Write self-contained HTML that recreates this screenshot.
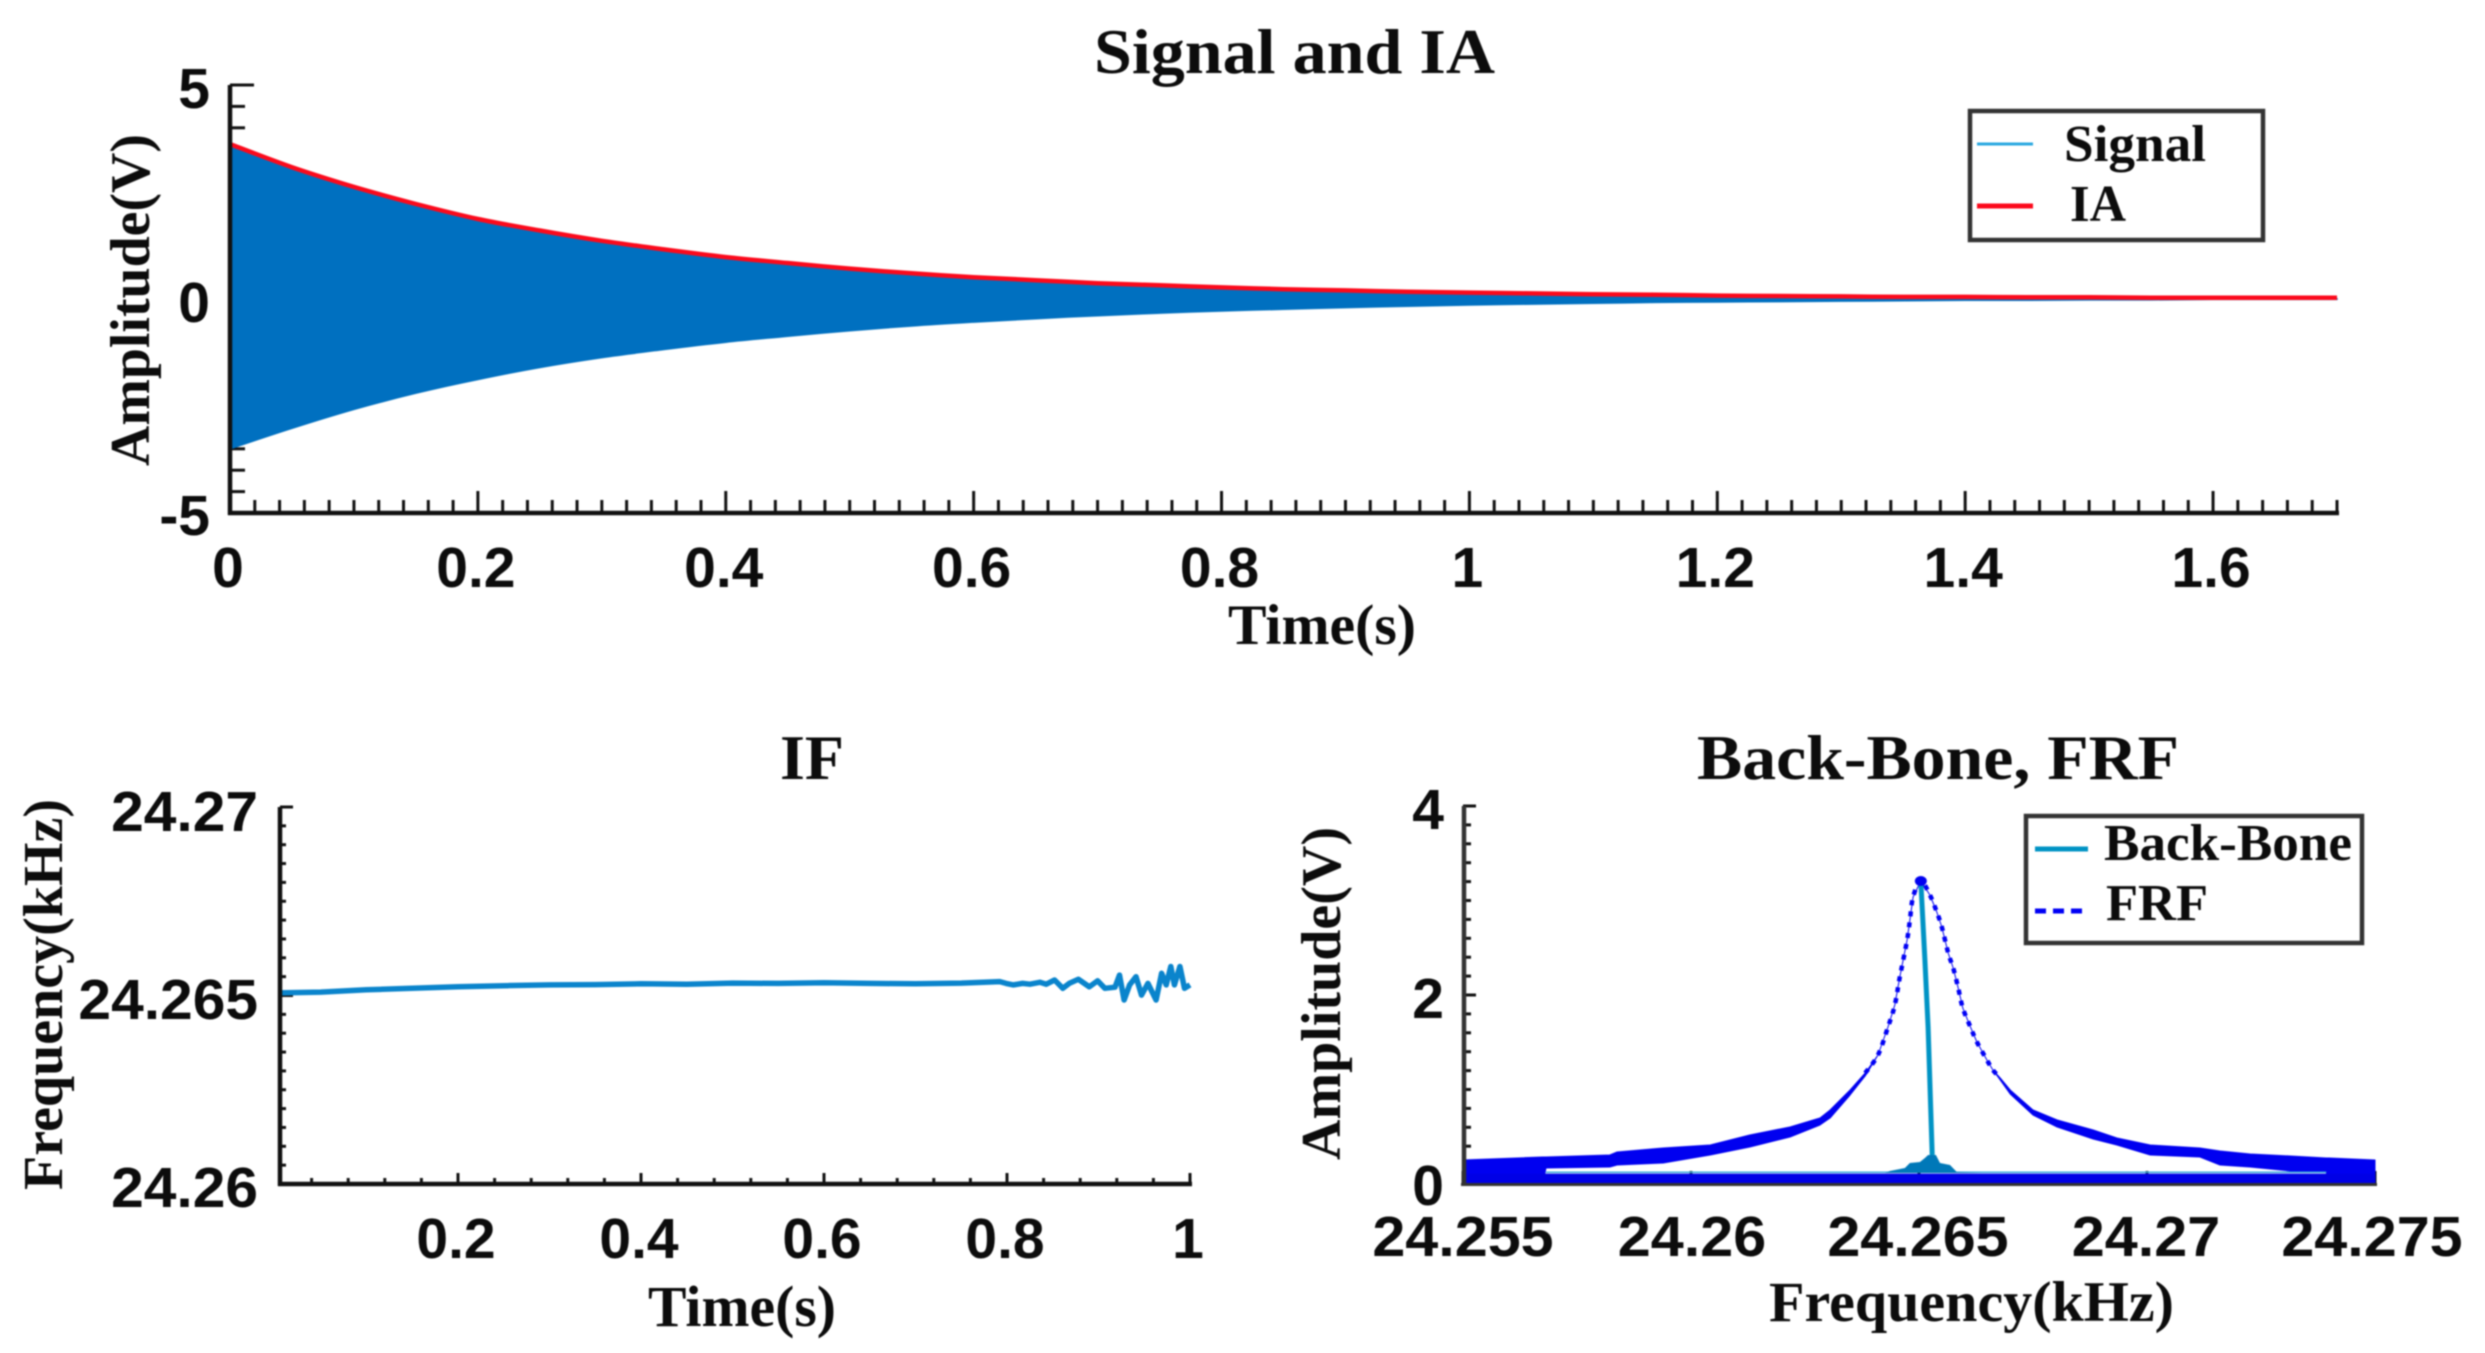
<!DOCTYPE html>
<html lang="en">
<head>
<meta charset="utf-8">
<title>Signal and IA, IF, Back-Bone and FRF</title>
<style>
html,body{margin:0;padding:0;background:#fff;width:2485px;height:1353px;overflow:hidden}
svg{display:block;filter:blur(0.8px)}
.tick{font-family:"Liberation Sans",sans-serif;font-weight:700;font-size:57px;fill:#0c0c0c}
.serif{font-family:"Liberation Serif",serif;font-weight:700;fill:#0c0c0c}
</style>
</head>
<body>
<svg id="fig" xmlns="http://www.w3.org/2000/svg" width="2485" height="1353" viewBox="0 0 2485 1353">
  <rect x="0" y="0" width="2485" height="1353" fill="#fff"/>
  <g id="top-chart"></g>
  <g id="if-chart"></g>
  <g id="frf-chart"></g>

  <text class="serif" x="1094" y="73" font-size="64" textLength="401" lengthAdjust="spacingAndGlyphs">Signal and IA</text>
  <text class="serif" x="1228" y="644" font-size="57" textLength="188" lengthAdjust="spacingAndGlyphs">Time(s)</text>
  <text class="serif" transform="translate(149,466) rotate(-90)" font-size="56" textLength="332" lengthAdjust="spacingAndGlyphs">Amplitude(V)</text>

  <text class="serif" x="780" y="779" font-size="64" textLength="64" lengthAdjust="spacingAndGlyphs">IF</text>
  <text class="serif" x="648" y="1326" font-size="58" textLength="188" lengthAdjust="spacingAndGlyphs">Time(s)</text>
  <text class="serif" transform="translate(62,1190) rotate(-90)" font-size="56" textLength="391" lengthAdjust="spacingAndGlyphs">Frequency(kHz)</text>

  <text class="serif" x="1697" y="779" font-size="64" textLength="482" lengthAdjust="spacingAndGlyphs">Back-Bone, FRF</text>
  <text class="serif" x="1769" y="1321" font-size="57" textLength="405" lengthAdjust="spacingAndGlyphs">Frequency(kHz)</text>
  <text class="serif" transform="translate(1340,1160) rotate(-90)" font-size="56" textLength="333" lengthAdjust="spacingAndGlyphs">Amplitude(V)</text>

  <g>
    <rect x="1970" y="111" width="293" height="129" fill="#fff" stroke="#333" stroke-width="4.5"/>
    <line x1="1977" y1="144" x2="2033" y2="144" stroke="#2aa8e0" stroke-width="3"/>
    <text class="serif" x="2064" y="161" font-size="52" textLength="142" lengthAdjust="spacingAndGlyphs">Signal</text>
    <line x1="1977" y1="206" x2="2033" y2="206" stroke="#fb0a1c" stroke-width="5"/>
    <text class="serif" x="2070" y="221" font-size="52" textLength="56" lengthAdjust="spacingAndGlyphs">IA</text>
  </g>

  <g>
    <rect x="2026" y="816" width="336" height="127" fill="#fff" stroke="#333" stroke-width="4.5"/>
    <line x1="2035" y1="849" x2="2088" y2="849" stroke="#0093c4" stroke-width="5"/>
    <text class="serif" x="2104" y="860" font-size="52" textLength="248" lengthAdjust="spacingAndGlyphs">Back-Bone</text>
    <line x1="2035" y1="911" x2="2082" y2="911" stroke="#0000f5" stroke-width="5" stroke-dasharray="11 7"/>
    <text class="serif" x="2106" y="920" font-size="52" textLength="102" lengthAdjust="spacingAndGlyphs">FRF</text>
  </g>
</svg>

<script>
// ---------- Signal and IA data ----------
const timeSamples = [0,0.05,0.1,0.15,0.2,0.25,0.3,0.35,0.4,0.45,0.5,0.55,0.6,0.65,0.7,0.75,0.8,0.85,0.9,0.95,1,1.05,1.1,1.15,1.2,1.25,1.3,1.35,1.4,1.45,1.5,1.55,1.6,1.65,1.7];
const iaValues = [3.62,3.08,2.62,2.22,1.87,1.6,1.36,1.16,0.98,0.84,0.71,0.6,0.51,0.44,0.37,0.32,0.27,0.23,0.2,0.17,0.15,0.13,0.11,0.1,0.08,0.07,0.06,0.05,0.05,0.04,0.04,0.03,0.03,0.03,0.03];
const signalUpper = [3.57,3.04,2.58,2.18,1.83,1.56,1.32,1.12,0.94,0.81,0.68,0.57,0.48,0.42,0.35,0.3,0.25,0.21,0.18,0.15,0.13,0.11,0.09,0.07,0.06,0.05,0.04,0.03,0.03,0.02,0.02,0.01,0.01,0.01,0.01];
const signalLower = [-3.5,-3.02,-2.58,-2.2,-1.88,-1.6,-1.37,-1.18,-1.01,-0.87,-0.74,-0.63,-0.54,-0.46,-0.39,-0.33,-0.28,-0.24,-0.2,-0.17,-0.14,-0.12,-0.1,-0.08,-0.07,-0.06,-0.05,-0.04,-0.03,-0.03,-0.02,-0.02,-0.01,-0.01,-0.01];
const topXTicks = [0,0.2,0.4,0.6,0.8,1,1.2,1.4,1.6];
const topXTickLabels = ['0','0.2','0.4','0.6','0.8','1','1.2','1.4','1.6'];
const topYTicks = [5,0,-5];
const topYTickLabels = ['5','0','-5'];

// ---------- IF data ----------
const ifTimes = [0.005,0.05,0.1,0.15,0.2,0.25,0.3,0.35,0.4,0.45,0.5,0.55,0.6,0.65,0.7,0.75,0.792,0.799,0.807,0.817,0.825,0.836,0.843,0.852,0.861,0.868,0.878,0.89,0.899,0.907,0.918,0.923,0.928,0.934,0.941,0.947,0.954,0.963,0.969,0.974,0.979,0.983,0.989,0.994,1];
const ifValues = [24.26507,24.26509,24.26515,24.26519,24.26523,24.26526,24.26528,24.26529,24.26531,24.2653,24.26533,24.26532,24.26534,24.26532,24.26531,24.26533,24.26537,24.26532,24.26528,24.26532,24.2653,24.26535,24.2653,24.26541,24.26519,24.26532,24.26543,24.26523,24.26539,24.26519,24.26522,24.26554,24.26488,24.26528,24.2655,24.26501,24.26532,24.26488,24.26559,24.26528,24.26577,24.26528,24.26577,24.26519,24.26528];
const ifXTicks = [0.2,0.4,0.6,0.8,1];
const ifXTickLabels = ['0.2','0.4','0.6','0.8','1'];
const ifYTicks = [24.27,24.265,24.26];
const ifYTickLabels = ['24.27','24.265','24.26'];

// ---------- FRF / Back-Bone data ----------
const frfFreq = [24.255,24.25675,24.25682,24.25822,24.25838,24.25939,24.26042,24.26129,24.26217,24.26283,24.26305,24.26349,24.26382,24.2641,24.26432,24.26447,24.26458,24.26474,24.2648,24.26487,24.26504,24.26524,24.26539,24.2655,24.26564,24.26575,24.26586,24.26596,24.26612,24.26627,24.26649,24.26662,24.26678,24.267,24.2675,24.26803,24.26882,24.26934,24.27007,24.27116,24.2716,24.27226,24.27314,24.27393,24.27399,24.275];
const frfUpper = [0.254,0.286,0.286,0.307,0.339,0.381,0.413,0.519,0.603,0.698,0.783,0.995,1.175,1.365,1.661,1.894,2.19,2.582,2.794,3.037,3.206,3.058,2.878,2.72,2.444,2.286,2.074,1.862,1.67,1.503,1.312,1.206,1.122,0.995,0.783,0.677,0.571,0.487,0.413,0.381,0.349,0.317,0.296,0.275,0.275,0.254];
const frfLower = [0,0,0.169,0.18,0.201,0.222,0.307,0.392,0.497,0.624,0.698,0.942,1.143,1.365,1.661,1.894,2.19,2.582,2.794,3.037,3.206,3.058,2.878,2.72,2.444,2.286,2.074,1.862,1.67,1.503,1.312,1.206,1.1,0.952,0.73,0.603,0.476,0.413,0.307,0.286,0.201,0.18,0.138,0.127,0,0];
const frfFloorFreq = [24.255,24.265,24.275];
const frfFloorTop = [0.11,0.11,0.11];
const backBoneBaseFreq = [24.25682,24.2641,24.2659,24.27393];
const backBoneBaseAmp = [0.125,0.125,0.125,0.125];
const backBoneMainFreq = [24.26504,24.26513,24.2652,24.26529];
const backBoneMainAmp = [3.206,2.37,1.66,0.307];
const humpFreq = [24.26425,24.26436,24.26469,24.2648,24.26502,24.26513,24.2652,24.26537,24.26546,24.26568,24.26583,24.2664];
const humpAmp = [0.116,0.138,0.169,0.222,0.233,0.275,0.307,0.307,0.222,0.201,0.127,0.116];
const frfXTicks = [24.255,24.26,24.265,24.27,24.275];
const frfXTickLabels = ['24.255','24.26','24.265','24.27','24.275'];
const frfYTicks = [4,2,0];
const frfYTickLabels = ['4','2','0'];

const NS = 'http://www.w3.org/2000/svg';
const AXIS = '#111';

function scale(d0, d1, r0, r1) {
  return v => r0 + (v - d0) * (r1 - r0) / (d1 - d0);
}
function addLine(parent, name, x1, y1, x2, y2, w, color) {
  const el = document.createElementNS(NS, 'line');
  
  
  el.setAttribute('x1', x1);
  el.setAttribute('y1', y1);
  el.setAttribute('x2', x2);
  el.setAttribute('y2', y2);
  el.setAttribute('stroke', color || AXIS);
  el.setAttribute('stroke-width', w);
  parent.appendChild(el);
  return el;
}
function addPath(parent, name, d, fill, stroke, w, dash) {
  const el = document.createElementNS(NS, 'path');
  
  
  el.setAttribute('d', d);
  el.setAttribute('fill', fill);
  el.setAttribute('stroke', stroke);
  el.setAttribute('stroke-width', w);
  el.setAttribute('stroke-linejoin', 'round');
  if (dash) el.setAttribute('stroke-dasharray', dash);
  parent.appendChild(el);
  return el;
}
function addTickLabel(parent, name, txt, x, y, anchor, stretch) {
  const el = document.createElementNS(NS, 'text');
  
  
  el.setAttribute('class', 'tick');
  el.setAttribute('x', x);
  el.setAttribute('y', y);
  el.setAttribute('text-anchor', anchor);
  el.textContent = txt;
  parent.appendChild(el);
  if (stretch !== 1) {
    const len = el.getComputedTextLength() * stretch;
    el.setAttribute('textLength', len);
    el.setAttribute('lengthAdjust', 'spacingAndGlyphs');
  }
  return el;
}
function linePath(xs, ys, fx, fy) {
  return xs.map((v, i) => (i ? 'L' : 'M') + fx(v).toFixed(1) + ' ' + fy(ys[i]).toFixed(1)).join('');
}
function bandPath(xs, up, lo, fx, fy) {
  let d = linePath(xs, up, fx, fy);
  for (let i = xs.length - 1; i >= 0; i--) d += 'L' + fx(xs[i]).toFixed(1) + ' ' + fy(lo[i]).toFixed(1);
  return d + 'Z';
}
// Smooth curve through the data points (Catmull-Rom to Bezier).
function smoothSegs(pts) {
  let d = '';
  for (let i = 0; i < pts.length - 1; i++) {
    const p0 = pts[Math.max(i - 1, 0)], p1 = pts[i], p2 = pts[i + 1], p3 = pts[Math.min(i + 2, pts.length - 1)];
    const c1x = p1[0] + (p2[0] - p0[0]) / 6, c1y = p1[1] + (p2[1] - p0[1]) / 6;
    const c2x = p2[0] - (p3[0] - p1[0]) / 6, c2y = p2[1] - (p3[1] - p1[1]) / 6;
    d += 'C' + c1x.toFixed(1) + ' ' + c1y.toFixed(1) + ' ' + c2x.toFixed(1) + ' ' + c2y.toFixed(1) + ' ' + p2[0].toFixed(1) + ' ' + p2[1].toFixed(1);
  }
  return d;
}
function smoothPath(xs, ys, fx, fy) {
  const pts = xs.map((v, i) => [fx(v), fy(ys[i])]);
  return 'M' + pts[0][0].toFixed(1) + ' ' + pts[0][1].toFixed(1) + smoothSegs(pts);
}
function smoothBand(xs, up, lo, fx, fy) {
  const lower = xs.map((v, i) => [fx(v), fy(lo[i])]).reverse();
  return smoothPath(xs, up, fx, fy) + 'L' + lower[0][0].toFixed(1) + ' ' + lower[0][1].toFixed(1) + smoothSegs(lower) + 'Z';
}

// ---------- Top chart ----------
(function () {
  const g = document.getElementById('top-chart');
  const x = scale(0, 1.7, 230, 2337);
  const y = scale(-5, 5, 513, 85);
  for (let i = 0; i <= 85; i++) {
    const major = i % 10 === 0;
    addLine(g, major ? 'x-major-tick' : 'x-minor-tick', x(i * 0.02), 513, x(i * 0.02), major ? 491 : 500, 3);
  }
  for (let i = -10; i <= 10; i++) {
    const major = i % 10 === 0;
    addLine(g, major ? 'y-major-tick' : 'y-minor-tick', 230, y(i * 0.5), major ? 254 : 245, y(i * 0.5), 3);
  }
  addPath(g, 'signal-series', smoothBand(timeSamples, signalUpper, signalLower, x, y), '#0070c0', '#0070c0', 1.5);
  addPath(g, 'ia-series', smoothPath(timeSamples, iaValues, x, y), 'none', '#fb0a1c', 4.5);
  addLine(g, 'x-axis-line', 228, 513, 2339, 513, 4.5);
  addLine(g, 'y-axis-line', 230, 85, 230, 515, 4.5);
  topXTicks.forEach((t, i) => addTickLabel(g, 'x-tick-label', topXTickLabels[i], x(t) - 2, 587, 'middle', 1));
  const yBase = [108, 322, 535];
  topYTicks.forEach((t, i) => addTickLabel(g, 'y-tick-label', topYTickLabels[i], 210, yBase[i], 'end', 1));
})();

// ---------- IF chart ----------
(function () {
  const g = document.getElementById('if-chart');
  const x = scale(0, 1, 275, 1190);
  const y = scale(24.26, 24.27, 1184, 807);
  for (let i = 1; i <= 25; i++) {
    const major = i % 5 === 0;
    addLine(g, major ? 'x-major-tick' : 'x-minor-tick', x(i * 0.04), 1184, x(i * 0.04), major ? 1173 : 1178, 3);
  }
  for (let i = 0; i <= 20; i++) {
    const major = i % 10 === 0;
    const v = 24.26 + i * 0.0005;
    addLine(g, major ? 'y-major-tick' : 'y-minor-tick', 280, y(v), major ? 293 : 286, y(v), 3);
  }
  addPath(g, 'if-series', linePath(ifTimes, ifValues, x, y), 'none', '#0a84cc', 5.5);
  addLine(g, 'x-axis-line', 278, 1184, 1192, 1184, 4.5);
  addLine(g, 'y-axis-line', 280, 807, 280, 1186, 4.5);
  ifXTicks.forEach((t, i) => addTickLabel(g, 'x-tick-label', ifXTickLabels[i], x(t) - 2, 1258, 'middle', 1));
  const yBase = [831, 1019, 1207];
  ifYTicks.forEach((t, i) => addTickLabel(g, 'y-tick-label', ifYTickLabels[i], 258, yBase[i], 'end', 1.03));
})();

// ---------- FRF chart ----------
(function () {
  const g = document.getElementById('frf-chart');
  const x = scale(24.255, 24.275, 1463, 2375);
  const y = scale(0, 4, 1184, 806);
  for (let i = 0; i <= 4; i++) {
    const v = 24.255 + i * 0.005;
    addLine(g, 'x-major-tick', x(v), 1184, x(v), 1171, 3);
  }
  for (let i = 0; i <= 20; i++) {
    const major = i % 10 === 0;
    addLine(g, major ? 'y-major-tick' : 'y-minor-tick', 1463, y(i * 0.2), major ? 1476 : 1471, y(i * 0.2), 3);
  }
  addPath(g, 'frf-band', bandPath(frfFreq, frfUpper, frfLower, x, y), '#0000f0', '#0000f0', 1);
  const peakIdx = frfFreq.map((f, i) => i).filter(i => frfFreq[i] >= 24.2636 && frfFreq[i] <= 24.2668);
  addPath(g, 'frf-series', smoothPath(peakIdx.map(i => frfFreq[i]), peakIdx.map(i => frfUpper[i]), x, y), 'none', '#0000f5', 4.5, '5 6');
  addPath(g, 'frf-floor-band', bandPath(frfFloorFreq, frfFloorTop, [0, 0, 0], x, y), '#0000e6', 'none', 0);
  addPath(g, 'back-bone-base', linePath(backBoneBaseFreq, backBoneBaseAmp, x, y), 'none', '#38a8dc', 1.5);
  addPath(g, 'back-bone-hump', linePath(humpFreq, humpAmp, x, y) + 'Z', '#0078b8', 'none', 0);
  addPath(g, 'back-bone-series', linePath(backBoneMainFreq, backBoneMainAmp, x, y), 'none', '#0093c4', 5);
  const peak = document.createElementNS(NS, 'ellipse');
  
  
  peak.setAttribute('cx', x(backBoneMainFreq[0]));
  peak.setAttribute('cy', y(backBoneMainAmp[0]));
  peak.setAttribute('rx', 6);
  peak.setAttribute('ry', 5);
  peak.setAttribute('fill', '#0000f0');
  g.appendChild(peak);
  addLine(g, 'x-axis-line', 1461, 1184.5, 2377, 1184.5, 3, '#333');
  addLine(g, 'y-axis-line', 1464, 806, 1464, 1186, 4.5, '#333');
  const cx = [1463, 1692, 1918, 2146, 2372];
  frfXTicks.forEach((t, i) => addTickLabel(g, 'x-tick-label', frfXTickLabels[i], x(t) + (cx[i] - x(t)), 1256, 'middle', 1.04));
  const yBase = [829, 1018, 1205];
  frfYTicks.forEach((t, i) => addTickLabel(g, 'y-tick-label', frfYTickLabels[i], 1444, yBase[i], 'end', 1));
})();
</script>
</body>
</html>
